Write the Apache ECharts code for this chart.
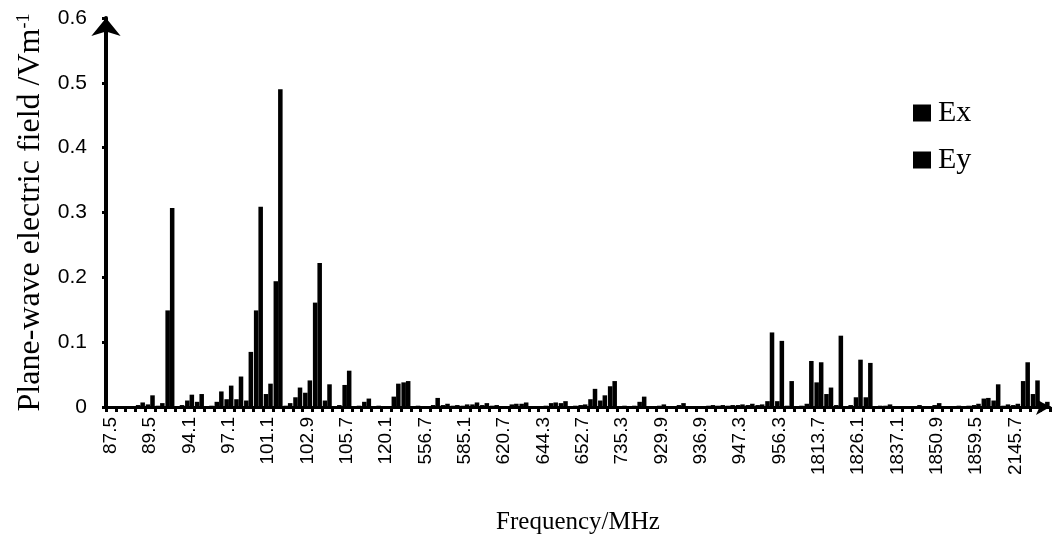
<!DOCTYPE html>
<html>
<head>
<meta charset="utf-8">
<script src="https://cdn.jsdelivr.net/npm/echarts@6/dist/echarts.min.js"></script>
<style>
  html, body { margin: 0; padding: 0; background: #fff; }
  #chart { width: 1059px; height: 559px; }
</style>
</head>
<body>
<div id="chart"></div>
<script>
// Visible tick labels (one every 4 categories)
const tickLabels = ['87.5','89.5','94.1','97.1','101.1','102.9','105.7','120.1','556.7','585.1',
  '620.7','644.3','652.7','735.3','929.9','936.9','947.3','956.3','1813.7','1826.1',
  '1837.1','1850.9','1859.5','2145.7'];
const labelEvery = 4;
const categoryCount = 96;

// Plane-wave electric field (V/m) per frequency category
const exValues = [
  0, 0, 0, 0.003, 0.004, 0.002, 0.149, 0.001, 0.010, 0.008,
  0.001, 0.008, 0.012, 0.012, 0.010, 0.149, 0.020, 0.194, 0.002, 0.015,
  0.022, 0.161, 0.010, 0.001, 0.034, 0.001, 0.008, 0.001, 0.001, 0.016,
  0.038, 0.001, 0.001, 0.003, 0.003, 0.002, 0.002, 0.004, 0.003, 0.002,
  0.001, 0.004, 0.005, 0.001, 0.001, 0.006, 0.006, 0.001, 0.003, 0.012,
  0.010, 0.032, 0.001, 0.001, 0.008, 0.001, 0.002, 0.001, 0.003, 0.001,
  0.001, 0.002, 0.002, 0.002, 0.003, 0.003, 0.003, 0.009, 0.009, 0.002,
  0.001, 0.005, 0.038, 0.020, 0.003, 0.001, 0.015, 0.015, 0.001, 0.002,
  0.001, 0.001, 0.001, 0.001, 0.003, 0.001, 0.001, 0.001, 0.003, 0.013,
  0.010, 0.002, 0.003, 0.040, 0.020, 0.005
];
const eyValues = [
  0, 0, 0.001, 0.007, 0.018, 0.006, 0.307, 0.003, 0.019, 0.020,
  0.002, 0.024, 0.033, 0.047, 0.085, 0.309, 0.036, 0.490, 0.006, 0.030,
  0.041, 0.222, 0.035, 0.003, 0.056, 0.002, 0.013, 0.002, 0.001, 0.036,
  0.040, 0.002, 0.001, 0.014, 0.005, 0.003, 0.004, 0.007, 0.006, 0.003,
  0.001, 0.005, 0.007, 0.001, 0.002, 0.007, 0.009, 0.002, 0.004, 0.028,
  0.018, 0.040, 0.002, 0.002, 0.016, 0.001, 0.004, 0.001, 0.006, 0.001,
  0.001, 0.003, 0.003, 0.003, 0.004, 0.005, 0.004, 0.115, 0.102, 0.040,
  0.002, 0.071, 0.069, 0.030, 0.110, 0.003, 0.073, 0.068, 0.002, 0.004,
  0.001, 0.001, 0.003, 0.001, 0.006, 0.001, 0.002, 0.002, 0.005, 0.014,
  0.035, 0.004, 0.005, 0.069, 0.041, 0.008
];

const categories = [];
for (let i = 0; i < categoryCount; i++) {
  categories.push(i % labelEvery === 0 ? tickLabels[i / labelEvery] : '');
}

const chart = echarts.init(document.getElementById('chart'), null, { renderer: 'canvas' });
chart.setOption({
  animation: false,
  backgroundColor: '#ffffff',
  grid: { left: 106, right: 9, top: 18, bottom: 152 },
  legend: {
    orient: 'vertical',
    left: 908,
    top: 93,
    itemWidth: 18,
    itemHeight: 17,
    itemGap: 17,
    icon: 'rect',
    textStyle: { fontFamily: 'Liberation Serif', fontSize: 30, color: '#000', padding: [0, 0, 0, 2] },
    data: ['Ex', 'Ey']
  },
  xAxis: {
    type: 'category',
    data: categories,
    boundaryGap: true,
    name: 'Frequency/MHz',
    nameLocation: 'middle',
    nameGap: 103,
    nameTextStyle: { fontFamily: 'Liberation Serif', fontSize: 25, color: '#000' },
    axisLine: { show: true, lineStyle: { color: '#000', width: 3 }, symbol: ['none', 'arrow'], symbolSize: [12, 14] },
    axisTick: { show: true, interval: 0, length: 5, lineStyle: { color: '#000', width: 3 } },
    axisLabel: {
      interval: labelEvery - 1,
      rotate: 90,
      margin: 10,
      fontFamily: 'Liberation Sans',
      fontSize: 19,
      color: '#000'
    },
    splitLine: { show: false }
  },
  yAxis: {
    type: 'value',
    min: 0,
    max: 0.6,
    interval: 0.1,
    name: '{n|Plane-wave electric field /Vm}{s|-1}',
    nameLocation: 'middle',
    nameRotate: 90,
    nameGap: 58,
    nameTextStyle: {
      rich: {
        n: { fontFamily: 'Liberation Serif', fontSize: 32, color: '#000' },
        s: { fontFamily: 'Liberation Serif', fontSize: 18, color: '#000', verticalAlign: 'top', padding: [0, 0, 14, 0] }
      }
    },
    axisLine: { show: true, lineStyle: { color: '#000', width: 4 }, symbol: ['none', 'arrow'], symbolSize: [22, 18] },
    axisTick: { show: true, length: 4, lineStyle: { color: '#000', width: 3 } },
    axisLabel: { margin: 19, fontFamily: 'Liberation Sans', fontSize: 21, color: '#000' },
    splitLine: { show: false }
  },
  series: [
    {
      name: 'Ex',
      type: 'bar',
      data: exValues,
      barGap: '0%',
      barCategoryGap: '8%',
      itemStyle: { color: '#000' }
    },
    {
      name: 'Ey',
      type: 'bar',
      data: eyValues,
      barGap: '0%',
      barCategoryGap: '8%',
      itemStyle: { color: '#000' }
    }
  ]
});
</script>
</body>
</html>
